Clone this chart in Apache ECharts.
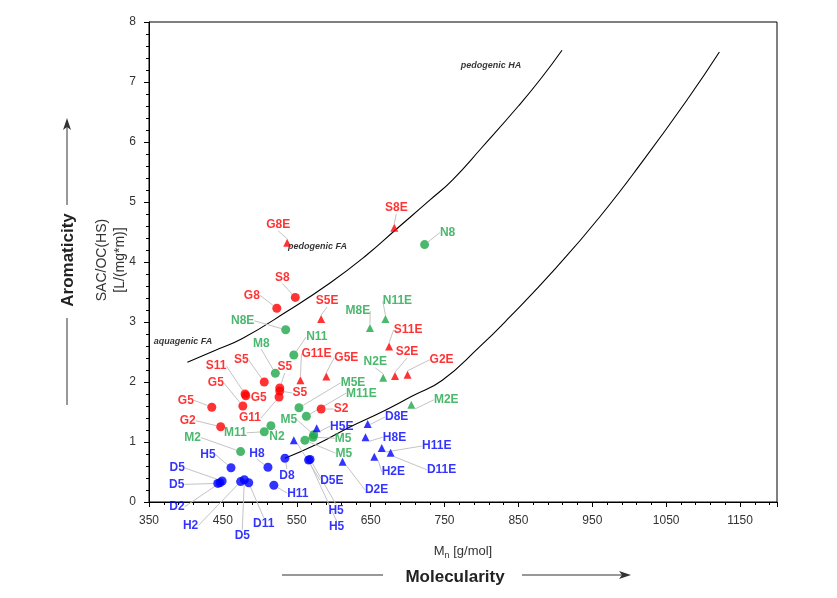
<!DOCTYPE html>
<html><head><meta charset="utf-8">
<script src="https://cdn.jsdelivr.net/npm/echarts@6/dist/echarts.min.js"></script>
<style>html,body{margin:0;padding:0;background:#fff}#c{width:837px;height:598px}</style>
</head><body><div id="c"></div>
<script>
// ---- data ----
const xTickLabels = ['350','450','550','650','750','850','950','1050','1150'];
const redCircleNames  = ['S8','G8','S5','S11','G5','G5','S5','S5','G11','G5','G2','S2'];
const redCircleValues = [[548,3.41],[523,3.23],[506,2.0],[480,1.8],[477,1.6],[481,1.77],[527,1.9],[527,1.85],[526,1.75],[435,1.58],[447,1.255],[583,1.55]];
const redTriNames  = ['S8E','G8E','S5E','S11E','S2E','G2E','G11E','G5E'];
const redTriValues = [[682,4.57],[537,4.32],[583,3.05],[675,2.59],[683,2.1],[700,2.12],[555,2.03],[590,2.09]];
const greenCircleNames  = ['N8','N8E','N11','M8','M5E','M11E','M11','N2','M2','M5','M5','M5'];
const greenCircleValues = [[723,4.29],[535,2.87],[546,2.45],[521,2.145],[553,1.57],[563,1.43],[506,1.17],[515,1.27],[474,0.84],[561,1.03],[572,1.08],[573,1.12]];
const greenTriNames  = ['N2E','M8E','N11E','M2E'];
const greenTriValues = [[667,2.07],[649,2.9],[670,3.05],[705,1.62]];
const blueCircleNames  = ['D8','H8','H5','D5','D5','D2','H2','D5','D11','H11','H5','H5'];
const blueCircleValues = [[534,0.73],[511,0.58],[461,0.57],[449,0.35],[443,0.31],[446,0.32],[474,0.34],[479,0.37],[485,0.32],[519,0.28],[568,0.71],[566,0.70]];
const blueTriNames  = ['D5E','H5E','D2E','D8E','H8E','H11E','H2E','D11E'];
const blueTriValues = [[546,1.03],[577,1.23],[612,0.67],[646,1.3],[643,1.08],[665,0.9],[655,0.755],[677,0.82]];
const upperCurve = [[402,2.33],[440,2.53],[477,2.73],[536,3.17],[595,3.65],[645,4.12],[685,4.55],[730,5.03],[761,5.37],[800,5.9],[850,6.6],[880,7.05],[909,7.53]];
const lowerCurve = [[534,0.73],[580,0.98],[622,1.25],[665,1.5],[707,1.77],[747,2.03],[797,2.58],[838,3.08],[900,3.89],[960,4.75],[1020,5.71],[1081,6.75],[1122,7.5]];
const annotationNames  = ['pedogenic HA','pedogenic FA','aquagenic FA'];
const annotationValues = [[813,7.27],[578,4.25],[396,2.68]];

// ---- label offsets (pixels) ----
const redCircleOff = [[-13,-20],[-25,-13],[-23,-22],[-29,-28],[-27,-23],[13,2],[5,-21],[20,2],[-29,21],[-26,-7],[-33,-6],[20,0]];
const redTriOff = [[2,-20],[-9,-18],[6,-18],[19,-17],[12,-24],[34,-15],[16,-27],[20,-19]];
const greenCircleOff = [[23,-12],[-43,-9],[23,-18],[-14,-30],[54,-25],[55,-23],[-29,1],[6,11],[-48,-14],[39,13],[30,1],[-25,-15]];
const greenTriOff = [[-8,-16],[-12,-17],[12,-18],[35,-5]];
const blueCircleOff = [[2,17],[-11,-14],[-23,-13],[-45,-13],[-41,1],[-43,24],[-50,44],[-2,56],[15,41],[24,8],[26,51],[28,67]];
const blueTriOff = [[38,40],[25,-2],[34,28],[29,-7],[29,0],[55,-2],[19,15],[51,17]];

const RED = '#ff0000', GREEN = '#1fa64a', BLUE = '#0000ff';
const FONT = 'Liberation Sans';

function pts(names, values){ return values.map((v,i)=>({name:names[i], value:v})); }
function scatter(names, values, off, color, symbol, size){
  return {
    type:'scatter', data: pts(names, values), symbol: symbol, symbolSize: size,
    itemStyle:{color: color},
    label:{show:true, position:'inside', formatter:'{b}', color: color, fontWeight:'bold', fontSize:12, fontFamily:FONT},
    labelLine:{show:true, lineStyle:{color:'#c4c4c4', width:1}},
    labelLayout: p => ({dx: off[p.dataIndex][0], dy: off[p.dataIndex][1]}),
    z: 5
  };
}
function curve(data){
  return {type:'line', data:data, smooth:true, symbol:'none', silent:true,
    lineStyle:{color:'#000', width:1.1}, z:3};
}

const chart = echarts.init(document.getElementById('c'), null, {renderer:'canvas'});
chart.setOption({
  animation:false,
  backgroundColor:'#fff',
  grid:{left:149, right:60, top:22, bottom:96, show:true, borderColor:'#000', borderWidth:1, backgroundColor:'transparent'},
  xAxis:[{
    type:'value', min:350, max:1200, interval:100,
    name:'{a|M}{s|n}{a| [g/mol]}', nameLocation:'middle', nameGap:41,
    nameTextStyle:{rich:{a:{fontSize:13, color:'#333', fontFamily:FONT}, s:{fontSize:9, color:'#333', fontFamily:FONT, verticalAlign:'bottom', padding:[8,0,0,0]}}},
    axisLine:{lineStyle:{color:'#000'}}, axisTick:{length:5, lineStyle:{color:'#000'}},
    axisLabel:{margin:13, color:'#333', fontSize:12, fontFamily:FONT,
      formatter: v => { const s = String(v); return xTickLabels.indexOf(s) >= 0 ? s : ''; }},
    splitLine:{show:false}
  },{
    type:'value', min:350, max:1200, interval:20, position:'bottom',
    axisLine:{show:false}, axisTick:{show:true, length:3, lineStyle:{color:'#000'}},
    axisLabel:{show:false}, splitLine:{show:false}
  }],
  yAxis:{
    type:'value', min:0, max:8, interval:1,
    axisLine:{show:true, lineStyle:{color:'#000'}}, axisTick:{show:true, length:5, lineStyle:{color:'#000'}},
    minorTick:{show:true, splitNumber:5, length:3, lineStyle:{color:'#000'}},
    axisLabel:{margin:13, color:'#333', fontSize:12, fontFamily:FONT},
    splitLine:{show:false}
  },
  series:[
    curve(upperCurve), curve(lowerCurve),
    {type:'scatter', data: pts(annotationNames, annotationValues), symbolSize:0, silent:true,
     label:{show:true, position:'inside', formatter:'{b}', color:'#000', fontStyle:'italic', fontWeight:'bold', fontSize:9, fontFamily:FONT}},
    scatter(redCircleNames, redCircleValues, redCircleOff, RED, 'circle', 9),
    scatter(redTriNames, redTriValues, redTriOff, RED, 'triangle', 8),
    scatter(greenCircleNames, greenCircleValues, greenCircleOff, GREEN, 'circle', 9),
    scatter(greenTriNames, greenTriValues, greenTriOff, GREEN, 'triangle', 8),
    scatter(blueCircleNames, blueCircleValues, blueCircleOff, BLUE, 'circle', 9),
    scatter(blueTriNames, blueTriValues, blueTriOff, BLUE, 'triangle', 8)
  ],
  graphic:[
    {type:'text', x:102, y:260, rotation:Math.PI/2, style:{text:'SAC/OC(HS)', font:'14px '+FONT, fill:'#333', align:'center', verticalAlign:'middle'}},
    {type:'text', x:120, y:260, rotation:Math.PI/2, style:{text:'[L/(mg*m)]', font:'14px '+FONT, fill:'#333', align:'center', verticalAlign:'middle'}},
    {type:'text', x:68, y:260, rotation:Math.PI/2, style:{text:'Aromaticity', font:'bold 17px '+FONT, fill:'#222', align:'center', verticalAlign:'middle'}},
    {type:'line', shape:{x1:67, y1:405, x2:67, y2:318}, style:{stroke:'#333', lineWidth:1}},
    {type:'line', shape:{x1:67, y1:205, x2:67, y2:126}, style:{stroke:'#333', lineWidth:1}},
    {type:'polygon', shape:{points:[[67,118],[63,130],[67,127],[71,130]]}, style:{fill:'#333'}},
    {type:'text', x:455, y:577, style:{text:'Molecularity', font:'bold 17px '+FONT, fill:'#222', align:'center', verticalAlign:'middle'}},
    {type:'line', shape:{x1:282, y1:575, x2:383, y2:575}, style:{stroke:'#333', lineWidth:1}},
    {type:'line', shape:{x1:522, y1:575, x2:624, y2:575}, style:{stroke:'#333', lineWidth:1}},
    {type:'polygon', shape:{points:[[631,575],[619,571],[622,575],[619,579]]}, style:{fill:'#333'}}
  ]
});
</script></body></html>
